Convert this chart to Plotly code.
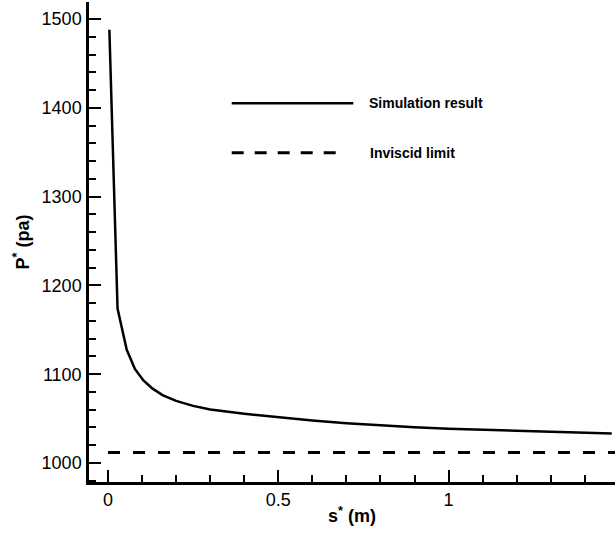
import plotly.graph_objects as go

# Wall pressure along the surface coordinate
s_sim = [0.004, 0.028, 0.055, 0.079, 0.104, 0.13, 0.16, 0.2, 0.25, 0.3, 0.4,
         0.5, 0.6, 0.7, 0.8, 0.9, 1.0, 1.1, 1.2, 1.3, 1.4, 1.479]
p_sim = [1488, 1174, 1127.5, 1106, 1093, 1084, 1076.5, 1070, 1064.3, 1060.2, 1055.5,
         1051.5, 1047.8, 1044.7, 1042.1, 1040.2, 1038.7, 1037.4, 1036.2, 1035.1, 1034.2, 1033.3]

# Inviscid limit pressure
p_inviscid = 1011.7

x_range = [-0.0558, 1.4885]
y_range = [978.6, 1519.2]

legend_labels = ["Simulation result", "Inviscid limit"]

FONT = "Liberation Sans, Arial, Helvetica, sans-serif"

fig = go.Figure()
fig.add_trace(go.Scatter(x=s_sim, y=p_sim, mode="lines",
                         line=dict(color="black", width=2.5),
                         name=legend_labels[0], showlegend=False))
fig.add_trace(go.Scatter(x=[0, x_range[1]], y=[p_inviscid, p_inviscid], mode="lines",
                         line=dict(color="black", width=3, dash="12px,13px"),
                         name=legend_labels[1], showlegend=False))

# Hand-placed legend inside the plot area (paper coordinates)
W, H = 615, 537
ml, mr, mt, mb = 89, 0, 2, 55
pw, ph = W - ml - mr, H - mt - mb


def px(x):
    return (x - ml) / pw


def py(y):
    return (H - mb - y) / ph


legend_rows = [
    (103.3, 231.7, 353.3, "solid", 2.5, 366.7),
    (152.7, 231.7, 343.0, "12px,11px", 3, 368.3),
]
for (yy, x0, x1, dash, w, tx), label in zip(legend_rows, legend_labels):
    fig.add_shape(type="line", xref="paper", yref="paper",
                  x0=px(x0), x1=px(x1), y0=py(yy), y1=py(yy),
                  line=dict(color="black", width=w, dash=dash))
    fig.add_annotation(xref="paper", yref="paper", x=px(tx), y=py(yy),
                       text=f"<b>{label}</b>", showarrow=False,
                       xanchor="left", yanchor="middle",
                       font=dict(family=FONT, size=14, color="black"))

axis_common = dict(
    showline=True, linecolor="black", linewidth=2.5, mirror=False,
    showgrid=False, zeroline=False,
    ticks="inside", tickcolor="black", tickwidth=2, ticklen=12,
    tickfont=dict(family=FONT, size=18, color="black"),
)

fig.update_xaxes(
    range=x_range, tickmode="array", tickvals=[0, 0.5, 1], ticktext=["0", "0.5", "1"],
    minor=dict(ticks="inside", dtick=0.1, tick0=0, ticklen=7, tickwidth=1.5,
               tickcolor="black", showgrid=False),
    ticklabelstandoff=0,
    title=dict(text="<b>s<sup>*</sup> (m)</b>", standoff=1,
               font=dict(family=FONT, size=18, color="black")),
    **axis_common,
)
fig.update_yaxes(
    range=y_range, tickmode="linear", tick0=1000, dtick=100,
    minor=dict(ticks="inside", dtick=20, tick0=1000, ticklen=7, tickwidth=1.5,
               tickcolor="black", showgrid=False),
    ticklabelstandoff=1,
    title=dict(text="<b>P<sup>*</sup> (pa)</b>", standoff=8,
               font=dict(family=FONT, size=18, color="black")),
    **axis_common,
)

fig.update_layout(
    width=W, height=H,
    margin=dict(l=ml, r=mr, t=mt, b=mb, pad=0),
    paper_bgcolor="white", plot_bgcolor="white",
    showlegend=False,
)

fig.write_html("out.html")
